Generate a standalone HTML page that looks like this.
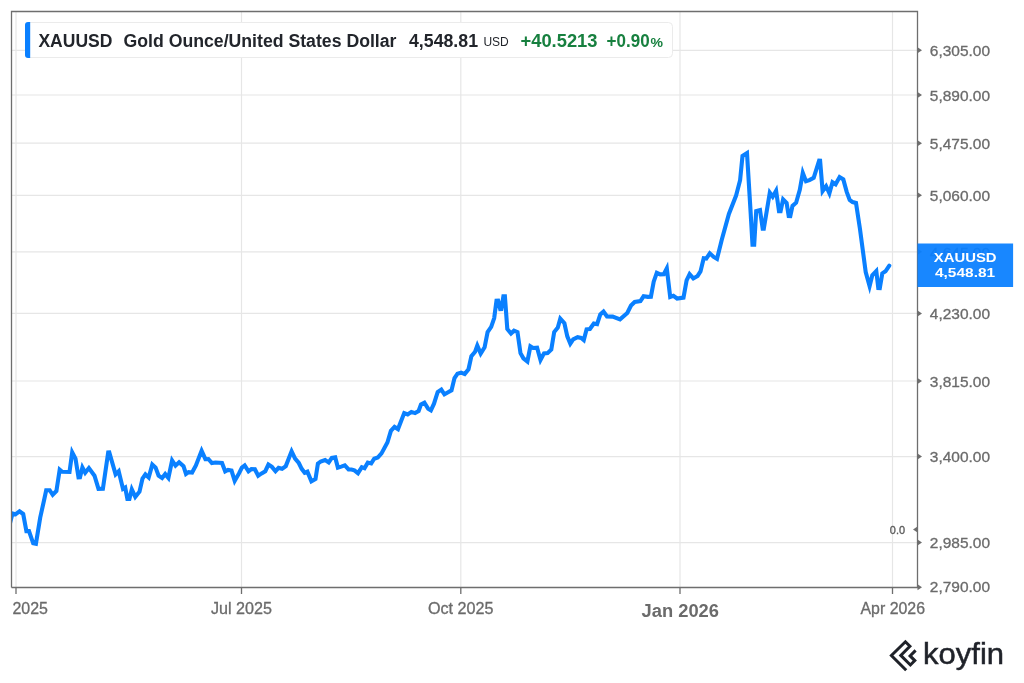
<!DOCTYPE html>
<html><head><meta charset="utf-8"><style>
html,body{margin:0;padding:0;background:#fff;width:1024px;height:683px;overflow:hidden;position:relative}
svg text{font-family:"Liberation Sans",sans-serif}
svg{will-change:transform}
.lb{stroke:#6b6b6b;stroke-width:0.3px}
</style></head><body>
<svg width="1024" height="683" viewBox="0 0 1024 683" style="position:absolute;left:0;top:0">
<line x1="11.5" y1="50.3" x2="917.5" y2="50.3" stroke="#e6e6e6" stroke-width="1.2"/>
<line x1="11.5" y1="95" x2="917.5" y2="95" stroke="#e6e6e6" stroke-width="1.2"/>
<line x1="11.5" y1="143.2" x2="917.5" y2="143.2" stroke="#e6e6e6" stroke-width="1.2"/>
<line x1="11.5" y1="195.3" x2="917.5" y2="195.3" stroke="#e6e6e6" stroke-width="1.2"/>
<line x1="11.5" y1="251.8" x2="917.5" y2="251.8" stroke="#e6e6e6" stroke-width="1.2"/>
<line x1="11.5" y1="313.4" x2="917.5" y2="313.4" stroke="#e6e6e6" stroke-width="1.2"/>
<line x1="11.5" y1="381" x2="917.5" y2="381" stroke="#e6e6e6" stroke-width="1.2"/>
<line x1="11.5" y1="456.6" x2="917.5" y2="456.6" stroke="#e6e6e6" stroke-width="1.2"/>
<line x1="11.5" y1="542.6" x2="917.5" y2="542.6" stroke="#e6e6e6" stroke-width="1.2"/>
<line x1="16" y1="11.5" x2="16" y2="587.5" stroke="#e6e6e6" stroke-width="1.2"/>
<line x1="241.5" y1="11.5" x2="241.5" y2="587.5" stroke="#e6e6e6" stroke-width="1.2"/>
<line x1="460.8" y1="11.5" x2="460.8" y2="587.5" stroke="#e6e6e6" stroke-width="1.2"/>
<line x1="680" y1="11.5" x2="680" y2="587.5" stroke="#e6e6e6" stroke-width="1.2"/>
<line x1="892.5" y1="11.5" x2="892.5" y2="587.5" stroke="#e6e6e6" stroke-width="1.2"/>
<clipPath id="pc"><rect x="11.5" y="11.5" width="906.0" height="576.0"/></clipPath>
<path d="M9.0,527.0 L12.5,513.5 L15.5,514.3 L19.5,511.3 L23.2,514.0 L26.4,531.1 L29.0,531.0 L33.2,543.3 L35.9,543.8 L40.2,517.6 L44.0,500.5 L46.2,490.2 L49.7,490.2 L52.7,494.8 L56.4,491.0 L59.7,469.7 L62.2,471.8 L69.5,472.0 L72.2,452.4 L75.5,458.6 L78.5,477.4 L80.0,477.3 L82.4,467.5 L85.2,472.8 L88.9,468.1 L94.5,475.7 L98.5,488.8 L102.9,488.7 L108.2,452.5 L109.3,452.4 L115.6,474.4 L118.7,471.3 L123.0,488.9 L125.2,487.6 L127.4,499.0 L129.4,499.0 L131.8,489.3 L135.3,496.9 L139.5,491.7 L142.5,478.6 L145.4,474.4 L148.7,477.5 L152.3,464.6 L155.6,467.6 L158.6,475.6 L162.1,478.0 L165.2,474.1 L168.4,478.0 L172.1,460.5 L175.5,465.7 L179.1,462.3 L183.5,466.1 L186.0,473.9 L188.6,472.1 L192.1,472.5 L195.9,465.4 L201.6,450.8 L205.4,459.2 L208.4,459.0 L211.9,463.0 L215.5,462.5 L222.0,463.0 L225.2,471.3 L228.0,469.9 L231.5,470.6 L234.7,480.9 L239.0,473.4 L241.9,467.6 L244.7,465.4 L248.5,471.3 L251.4,469.1 L254.9,469.2 L258.2,475.7 L261.6,473.4 L265.3,471.2 L268.4,464.6 L271.9,466.9 L275.5,471.2 L278.6,467.9 L282.1,468.8 L285.8,466.1 L291.6,451.3 L295.1,458.6 L298.8,463.0 L301.7,468.8 L304.7,472.7 L307.4,471.7 L311.4,481.4 L315.5,479.0 L317.9,463.7 L320.7,461.5 L325.1,460.1 L328.7,462.4 L331.8,457.9 L335.2,457.4 L337.9,467.6 L341.2,466.6 L344.8,465.4 L348.6,469.4 L351.5,469.5 L354.4,470.3 L358.0,473.2 L361.8,467.2 L364.5,468.2 L367.8,462.6 L371.2,463.4 L374.2,458.7 L377.8,457.5 L381.5,453.4 L387.4,442.5 L390.9,430.8 L394.5,426.9 L398.0,429.1 L404.2,413.1 L407.7,414.5 L411.4,411.9 L415.0,413.1 L418.6,411.0 L421.0,404.4 L424.4,402.6 L428.2,408.8 L430.9,410.4 L434.0,403.7 L437.7,392.0 L441.3,389.6 L444.4,394.3 L447.2,392.7 L451.5,390.4 L454.5,378.1 L457.5,373.7 L461.1,372.6 L464.7,374.1 L468.5,369.3 L471.4,356.1 L475.1,351.7 L477.3,345.6 L480.7,353.5 L484.6,347.3 L487.6,332.0 L491.2,326.9 L494.2,318.1 L496.5,300.8 L498.1,300.7 L500.2,309.1 L501.3,309.0 L503.4,296.3 L504.9,296.3 L507.3,329.0 L511.0,333.5 L514.0,330.7 L517.5,332.1 L520.5,353.2 L523.4,358.3 L527.4,361.5 L530.4,346.4 L533.0,348.0 L537.1,347.6 L540.5,360.0 L544.0,353.4 L547.6,353.1 L551.3,349.5 L554.2,332.0 L557.8,327.6 L560.3,318.7 L564.4,323.2 L567.3,336.4 L570.3,343.6 L573.2,339.3 L577.6,337.2 L581.2,337.9 L583.8,340.1 L586.6,329.3 L589.9,329.0 L593.8,323.5 L597.1,324.2 L600.3,314.4 L603.5,311.5 L607.0,316.5 L612.7,316.6 L620.0,319.3 L627.3,313.0 L631.0,305.6 L634.7,302.0 L640.4,301.1 L643.6,296.3 L647.8,296.9 L650.9,296.7 L653.7,281.7 L656.8,272.8 L660.2,274.4 L663.8,274.2 L666.8,268.4 L670.2,297.0 L673.4,295.9 L677.1,298.5 L683.5,297.6 L686.6,280.3 L689.6,274.2 L693.3,278.4 L697.6,275.9 L700.5,271.5 L703.7,258.2 L706.3,258.6 L709.8,253.3 L713.7,256.9 L717.0,258.9 L721.7,240.0 L728.9,214.0 L736.1,195.5 L740.1,180.2 L742.5,156.0 L747.0,153.1 L750.6,212.0 L752.5,244.7 L754.2,244.7 L756.2,211.1 L760.0,210.0 L762.7,228.7 L763.8,228.7 L769.8,192.7 L772.7,196.8 L776.1,190.8 L779.0,211.2 L780.6,211.2 L783.1,199.4 L786.6,203.0 L788.7,216.0 L790.3,216.1 L792.5,205.9 L796.1,202.7 L799.8,189.8 L802.8,172.9 L806.0,181.2 L809.4,180.1 L813.7,177.8 L819.1,160.6 L820.1,160.7 L822.6,191.0 L826.1,186.2 L829.4,193.3 L832.5,182.3 L835.6,184.3 L839.6,177.1 L843.3,179.4 L846.7,191.9 L849.7,199.9 L852.6,202.1 L856.0,203.0 L859.9,228.5 L865.7,272.0 L869.6,286.1 L872.3,275.3 L876.3,271.1 L878.3,288.0 L879.8,288.1 L882.3,273.4 L885.5,271.3 L889.3,265.6" fill="none" stroke="#0a80ff" stroke-width="4.1" stroke-linejoin="miter" stroke-miterlimit="10" stroke-linecap="round" clip-path="url(#pc)"/>
<path d="M11.5,587.5 L11.5,11.5 L917.5,11.5 L917.5,587.5 L11.5,587.5" fill="none" stroke="#6e6e6e" stroke-width="1.3"/>
<line x1="16" y1="587.5" x2="16" y2="594.0" stroke="#6e6e6e" stroke-width="1.3"/>
<line x1="241.5" y1="587.5" x2="241.5" y2="594.0" stroke="#6e6e6e" stroke-width="1.3"/>
<line x1="460.8" y1="587.5" x2="460.8" y2="594.0" stroke="#6e6e6e" stroke-width="1.3"/>
<line x1="680" y1="587.5" x2="680" y2="594.0" stroke="#6e6e6e" stroke-width="1.3"/>
<line x1="892.5" y1="587.5" x2="892.5" y2="594.0" stroke="#6e6e6e" stroke-width="1.3"/>
<path d="M917.5,47.3 L922.0,50.3 L917.5,53.3 Z" fill="#6e6e6e"/>
<path d="M917.5,92 L922.0,95 L917.5,98 Z" fill="#6e6e6e"/>
<path d="M917.5,140.2 L922.0,143.2 L917.5,146.2 Z" fill="#6e6e6e"/>
<path d="M917.5,192.3 L922.0,195.3 L917.5,198.3 Z" fill="#6e6e6e"/>
<path d="M917.5,248.8 L922.0,251.8 L917.5,254.8 Z" fill="#6e6e6e"/>
<path d="M917.5,310.4 L922.0,313.4 L917.5,316.4 Z" fill="#6e6e6e"/>
<path d="M917.5,378 L922.0,381 L917.5,384 Z" fill="#6e6e6e"/>
<path d="M917.5,453.6 L922.0,456.6 L917.5,459.6 Z" fill="#6e6e6e"/>
<path d="M917.5,539.6 L922.0,542.6 L917.5,545.6 Z" fill="#6e6e6e"/>
<path d="M917.5,584.3 L922.0,587.3 L917.5,590.3 Z" fill="#6e6e6e"/>
<path d="M917.5,526.6 L913.0,529.6 L917.5,532.6 Z" fill="#6e6e6e"/>
<text x="929.8" y="55.6" font-size="14.5" fill="#6b6b6b" class="lb" textLength="60.2" lengthAdjust="spacingAndGlyphs">6,305.00</text>
<text x="929.8" y="100.8" font-size="14.5" fill="#6b6b6b" class="lb" textLength="60.2" lengthAdjust="spacingAndGlyphs">5,890.00</text>
<text x="929.8" y="149.0" font-size="14.5" fill="#6b6b6b" class="lb" textLength="60.2" lengthAdjust="spacingAndGlyphs">5,475.00</text>
<text x="929.8" y="201.1" font-size="14.5" fill="#6b6b6b" class="lb" textLength="60.2" lengthAdjust="spacingAndGlyphs">5,060.00</text>
<text x="929.8" y="257.6" font-size="14.5" fill="#6b6b6b" class="lb" textLength="60.2" lengthAdjust="spacingAndGlyphs">4,645.00</text>
<text x="929.8" y="319.2" font-size="14.5" fill="#6b6b6b" class="lb" textLength="60.2" lengthAdjust="spacingAndGlyphs">4,230.00</text>
<text x="929.8" y="386.8" font-size="14.5" fill="#6b6b6b" class="lb" textLength="60.2" lengthAdjust="spacingAndGlyphs">3,815.00</text>
<text x="929.8" y="462.4" font-size="14.5" fill="#6b6b6b" class="lb" textLength="60.2" lengthAdjust="spacingAndGlyphs">3,400.00</text>
<text x="929.8" y="548.4" font-size="14.5" fill="#6b6b6b" class="lb" textLength="60.2" lengthAdjust="spacingAndGlyphs">2,985.00</text>
<text x="929.8" y="591.9" font-size="14.5" fill="#6b6b6b" class="lb" textLength="60.2" lengthAdjust="spacingAndGlyphs">2,790.00</text>
<text x="889.8" y="534.2" font-size="11" fill="#5c5c5c" stroke="#5c5c5c" stroke-width="0.35" textLength="15.2" lengthAdjust="spacingAndGlyphs">0.0</text>
<text x="12.5" y="613.6" font-size="15.8" fill="#6b6b6b" class="lb" textLength="35.5" lengthAdjust="spacingAndGlyphs">2025</text>
<text x="211" y="613.6" font-size="15.8" fill="#6b6b6b" class="lb" textLength="61" lengthAdjust="spacingAndGlyphs">Jul 2025</text>
<text x="428" y="613.6" font-size="15.8" fill="#6b6b6b" class="lb" textLength="65.5" lengthAdjust="spacingAndGlyphs">Oct 2025</text>
<text x="641.5" y="616.6" font-size="18" font-weight="bold" fill="#6b6b6b" textLength="77.5" lengthAdjust="spacingAndGlyphs">Jan 2026</text>
<text x="860.5" y="613.6" font-size="15.8" fill="#6b6b6b" class="lb" textLength="64.5" lengthAdjust="spacingAndGlyphs">Apr 2026</text>
<rect x="917.5" y="243.5" width="95.6" height="43.5" fill="#0a80ff" fill-opacity="0.94"/>
<text x="933.8" y="261.9" font-size="13.5" font-weight="bold" fill="#fff" textLength="62.8" lengthAdjust="spacingAndGlyphs">XAUUSD</text>
<text x="935" y="277.1" font-size="13.5" font-weight="bold" fill="#fff" textLength="60.1" lengthAdjust="spacingAndGlyphs">4,548.81</text>
<rect x="25.5" y="22.5" width="647" height="35" rx="4" fill="#fff" stroke="#ebebeb" stroke-width="1"/>
<path d="M30.2,22 L28,22 Q25,22 25,25 L25,55 Q25,58 28,58 L30.2,58 Z" fill="#0a80ff"/>
<text x="38.4" y="46.6" font-size="17.5" font-weight="bold" fill="#22252b" textLength="74" lengthAdjust="spacingAndGlyphs">XAUUSD</text>
<text x="123.5" y="46.6" font-size="17.5" font-weight="bold" fill="#22252b" textLength="273" lengthAdjust="spacingAndGlyphs">Gold Ounce/United States Dollar</text>
<text x="409" y="46.6" font-size="17.5" font-weight="bold" fill="#22252b" textLength="69" lengthAdjust="spacingAndGlyphs">4,548.81</text>
<text x="483.4" y="46.3" font-size="12" fill="#22252b" textLength="25.4" lengthAdjust="spacingAndGlyphs">USD</text>
<text x="520.5" y="46.6" font-size="17.5" font-weight="bold" fill="#17803f" textLength="77" lengthAdjust="spacingAndGlyphs">+40.5213</text>
<text x="606.6" y="46.6" font-size="17.5" font-weight="bold" fill="#17803f" textLength="43" lengthAdjust="spacingAndGlyphs">+0.90</text>
<text x="650.5" y="46.6" font-size="12.5" font-weight="bold" fill="#17803f" textLength="12.5" lengthAdjust="spacingAndGlyphs">%</text>
<g transform="translate(884,635)"><path d="M22.2,35.3 L7.4,20.5 L21.4,6.8 L25.9,11.3 L16.8,20.4 L26.4,30 L30.8,25.6 L26.1,20.9 L31.6,15.4" fill="none" stroke="#1f2229" stroke-width="3" stroke-linejoin="miter"/></g>
<text x="923.1" y="663.9" font-size="29.5" fill="#1f2229" stroke="#1f2229" stroke-width="0.5" textLength="81" lengthAdjust="spacingAndGlyphs">koyfin</text>
</svg>
</body></html>
